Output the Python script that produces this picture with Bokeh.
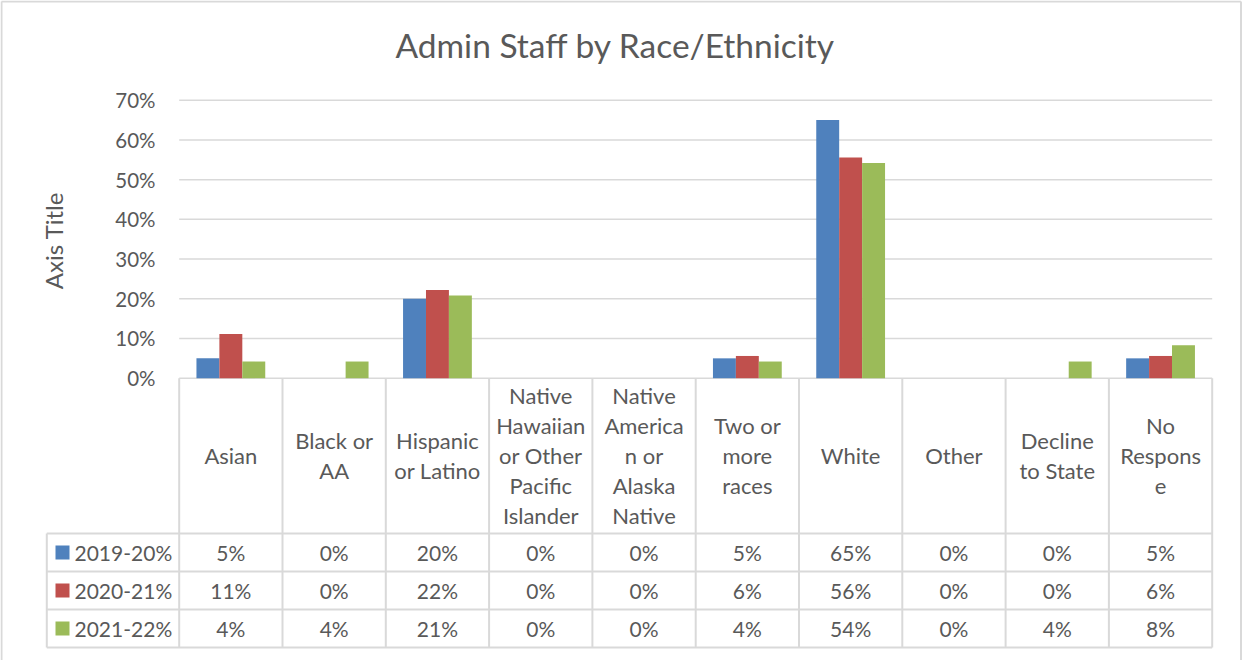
from bokeh.plotting import figure
from bokeh.models import Range1d
from bokeh.core.properties import value
from bokeh.embed import file_html
from bokeh.resources import INLINE

# ---------------- data ----------------
title_text = "Admin Staff by Race/Ethnicity"
y_axis_title = "Axis Title"
categories = ["Asian", "Black or\nAA", "Hispanic\nor Latino",
              "Native\nHawaiian\nor Other\nPacific\nIslander",
              "Native\nAmerica\nn or\nAlaska\nNative",
              "Two or\nmore\nraces", "White", "Other", "Decline\nto State",
              "No\nRespons\ne"]
series_names = ["2019-20%", "2020-21%", "2021-22%"]
s2019_20 = [0.05, 0.0, 0.20, 0.0, 0.0, 0.05, 0.65, 0.0, 0.0, 0.05]
s2020_21 = [0.111, 0.0, 0.222, 0.0, 0.0, 0.056, 0.556, 0.0, 0.0, 0.056]
s2021_22 = [0.042, 0.042, 0.208, 0.0, 0.0, 0.042, 0.542, 0.0, 0.042, 0.083]
y_ticks = [0.0, 0.1, 0.2, 0.3, 0.4, 0.5, 0.6, 0.7]
y_tick_labels = ["0%", "10%", "20%", "30%", "40%", "50%", "60%", "70%"]
colors = ["#4F81BD", "#C0504D", "#9BBB59"]
series = [s2019_20, s2020_21, s2021_22]

# ---------------- layout ----------------
W, H = 1242, 660
PX_LEFT = 178.7      # left edge of plot area (px)
CAT_W = 103.3        # width of one category (px)
PX_ZERO = 377.7      # y pixel of 0%
PX_PER_UNIT = 397.1  # pixels per 100%

def dx(px):
    return (px - PX_LEFT) / CAT_W

def dy(py):
    return (PX_ZERO - py) / PX_PER_UNIT

FONT = value("Lato")
TXT = "#595959"
GRID = "#d9d9d9"

p = figure(width=W, height=H, output_backend="svg", toolbar_location=None,
           x_range=Range1d(dx(0), dx(W)), y_range=Range1d(dy(H), dy(0)),
           x_axis_type=None, y_axis_type=None, min_border=0, title=None)
p.outline_line_color = None
p.grid.visible = False
p.background_fill_color = "white"
p.border_fill_color = "white"

n = len(categories)
bar_w = 0.222

# gridlines
p.segment(x0=[0] * len(y_ticks), x1=[n] * len(y_ticks), y0=y_ticks, y1=y_ticks,
          line_color=GRID, line_width=1.5)

# bars
for k, (vals, col) in enumerate(zip(series, colors)):
    xs = [i + 0.5 + (k - 1) * bar_w for i in range(n)]
    p.vbar(x=xs, top=vals, bottom=0, width=bar_w, fill_color=col, line_color=None)

# y tick labels
p.text(x=[dx(155)] * len(y_ticks), y=y_ticks, text=y_tick_labels,
       text_align="right", text_baseline="middle", text_font=FONT,
       text_font_size="20.5px", text_color=TXT)

# axis title
p.text(x=[dx(53)], y=[dy(240)], text=[y_axis_title], angle=1.5707963,
       text_align="center", text_baseline="middle", text_font=FONT,
       text_font_size="24px", text_color=TXT)

# chart title
p.text(x=[dx(615)], y=[dy(44)], text=[title_text], text_align="center",
       text_baseline="middle", text_font=FONT, text_font_size="33.5px",
       text_color=TXT)

# ---------------- data table ----------------
row_px = [533, 571, 609, 647]
row_y = [dy(v) for v in row_px]
x_leg = dx(46.3)

# vertical lines
p.segment(x0=list(range(n + 1)), x1=list(range(n + 1)),
          y0=[0] * (n + 1), y1=[row_y[-1]] * (n + 1),
          line_color=GRID, line_width=2)
p.segment(x0=[x_leg], x1=[x_leg], y0=[row_y[0]], y1=[row_y[-1]],
          line_color=GRID, line_width=2)
# horizontal lines
p.segment(x0=[x_leg] * 4, x1=[n] * 4, y0=row_y, y1=row_y,
          line_color=GRID, line_width=2)

# header labels
p.text(x=[i + 0.5 for i in range(n)], y=[dy(455)] * n, text=categories,
       text_align="center", text_baseline="middle", text_font=FONT,
       text_font_size="22px", text_color=TXT, text_line_height=1.11)

# values and legend
for k, (vals, col, name) in enumerate(zip(series, colors, series_names)):
    yc = (row_y[k] + row_y[k + 1]) / 2
    p.text(x=[i + 0.5 for i in range(n)], y=[yc] * n,
           text=[f"{round(v * 100)}%" for v in vals],
           text_align="center", text_baseline="middle", text_font=FONT,
           text_font_size="21px", text_color=TXT)
    p.scatter(x=[dx(62)], y=[yc], marker="square", size=14,
              fill_color=col, line_color=None)
    p.text(x=[dx(74)], y=[yc], text=[name], text_align="left",
           text_baseline="middle", text_font=FONT, text_font_size="21px",
           text_color=TXT)

# outer chart border
p.segment(x0=[dx(1), dx(1), dx(1240.5)], x1=[dx(1), dx(1240.5), dx(1240.5)],
          y0=[dy(H), dy(1), dy(1)], y1=[dy(1), dy(1), dy(H)],
          line_color=GRID, line_width=2)

open("out.html", "w").write(file_html(p, INLINE))
